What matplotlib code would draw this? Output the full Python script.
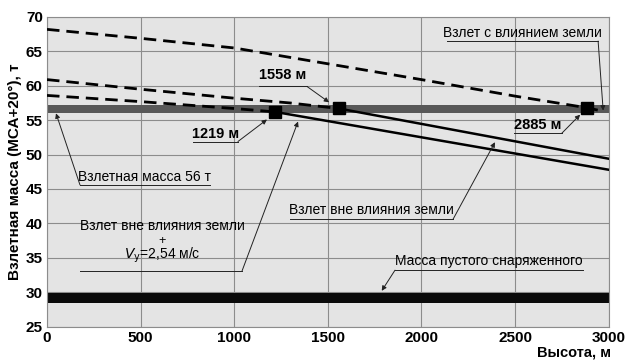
import matplotlib.pyplot as plt

# Взлетная масса (МСА+20°) в зависимости от высоты
heights_ige = [0, 500, 1000, 1500, 2000, 2500, 2885, 2970]
mass_ige = [68.2, 66.9, 65.5, 63.2, 60.9, 58.5, 56.8, 56.3]

heights_mid = [0, 500, 1000, 1300, 1558]
mass_mid = [60.9, 59.5, 58.2, 57.5, 56.7]

heights_low = [0, 500, 1000, 1219]
mass_low = [58.6, 57.7, 56.7, 56.2]

heights_oge = [1558, 3000]
mass_oge = [56.7, 49.4]

heights_oge_vy = [1219, 3000]
mass_oge_vy = [56.2, 47.8]

marker_heights = [1219, 1558, 2885]
marker_mass = [56.2, 56.7, 56.8]

takeoff_band = (56.0, 57.2)
empty_band = (28.5, 29.85)

x_ticks = [0, 500, 1000, 1500, 2000, 2500, 3000]
y_ticks = [25, 30, 35, 40, 45, 50, 55, 60, 65, 70]

plt.rcParams["font.family"] = ["Liberation Sans", "DejaVu Sans"]

fig = plt.figure(figsize=(6.31, 3.6), dpi=100)
ax = fig.add_axes([0.0745, 0.0928, 0.89, 0.86])
ax.set_facecolor("#e4e4e4")

ax.set_xlim(0, 3000)
ax.set_ylim(25, 70)
ax.set_xticks(x_ticks)
ax.set_yticks(y_ticks)
ax.grid(True, color="#8c8c8c", lw=0.8)
ax.set_axisbelow(True)
ax.tick_params(length=0, labelsize=11, pad=3)
for lab in ax.get_xticklabels() + ax.get_yticklabels():
    lab.set_fontweight("bold")
for sp in ax.spines.values():
    sp.set_color("#8c8c8c")
    sp.set_linewidth(0.8)

ax.axhspan(*takeoff_band, color="#585858", lw=0, zorder=2)
ax.axhspan(*empty_band, color="#0a0a0a", lw=0, zorder=2)

dash = dict(color="black", lw=2.0, dashes=(4.5, 2.5), zorder=3)
ax.plot(heights_ige, mass_ige, **dash)
ax.plot(heights_mid, mass_mid, **dash)
ax.plot(heights_low, mass_low, **dash)
ax.plot(heights_oge, mass_oge, color="black", lw=1.8, zorder=3)
ax.plot(heights_oge_vy, mass_oge_vy, color="black", lw=1.8, zorder=3)
ax.plot(marker_heights, marker_mass, "s", color="black", ms=8.5, zorder=4)

arrow = dict(arrowstyle="-|>", color="#222222", lw=0.7,
             mutation_scale=7, shrinkA=0, shrinkB=0)


def callout(text, x0, x1, y_line, tip, start, text_y, bold=False, size=10):
    # подпись с подчеркиванием и выноской к линии
    ax.text((x0 + x1) / 2, text_y, text, ha="center", va="center",
            fontsize=size, fontweight="bold" if bold else "normal", zorder=5)
    ax.plot([x0, x1], [y_line, y_line], color="#222222", lw=0.7, zorder=5)
    ax.annotate("", xy=tip, xytext=(start, y_line), arrowprops=arrow, zorder=5)


callout("Взлет с влиянием земли", 2137, 2944, 66.5, (2971, 56.4), 2944, 67.7)
callout("1558 м", 1133, 1389, 59.9, (1507, 57.6), 1389, 61.5, bold=True, size=10.5)
callout("1219 м", 780, 1020, 51.9, (1175, 55.1), 1020, 53.0, bold=True, size=10.5)
callout("2885 м", 2495, 2750, 53.1, (2848, 55.8), 2750, 54.3, bold=True, size=10.5)
callout("Взлетная масса 56 т", 176, 870, 45.6, (48, 56.0), 176, 46.7)
callout("Взлет вне влияния земли", 1298, 2169, 40.6, (2393, 51.8), 2169, 42.0)
callout("Масса пустого снаряженного", 1859, 2864, 33.2, (1788, 30.2), 1859, 34.6)

ax.text(614, 39.6, "Взлет вне влияния земли", ha="center", va="center",
        fontsize=10, zorder=5)
ax.text(614, 37.4, "+", ha="center", va="center", fontsize=9, zorder=5)
ax.text(614, 35.3, "$V_{\\mathrm{y}}$=2,54 м/с", ha="center", va="center",
        fontsize=10, zorder=5)
ax.plot([176, 1042], [33.1, 33.1], color="#222222", lw=0.7, zorder=5)
ax.annotate("", xy=(1341, 54.8), xytext=(1042, 33.1), arrowprops=arrow, zorder=5)

ax.set_ylabel("Взлетная масса (МСА+20°), т", fontsize=11,
              fontweight="bold", labelpad=3)
fig.text(0.968, 0.022, "Высота, м", ha="right", va="center",
         fontsize=10.5, fontweight="bold")

fig.savefig("out.png", dpi=100)
